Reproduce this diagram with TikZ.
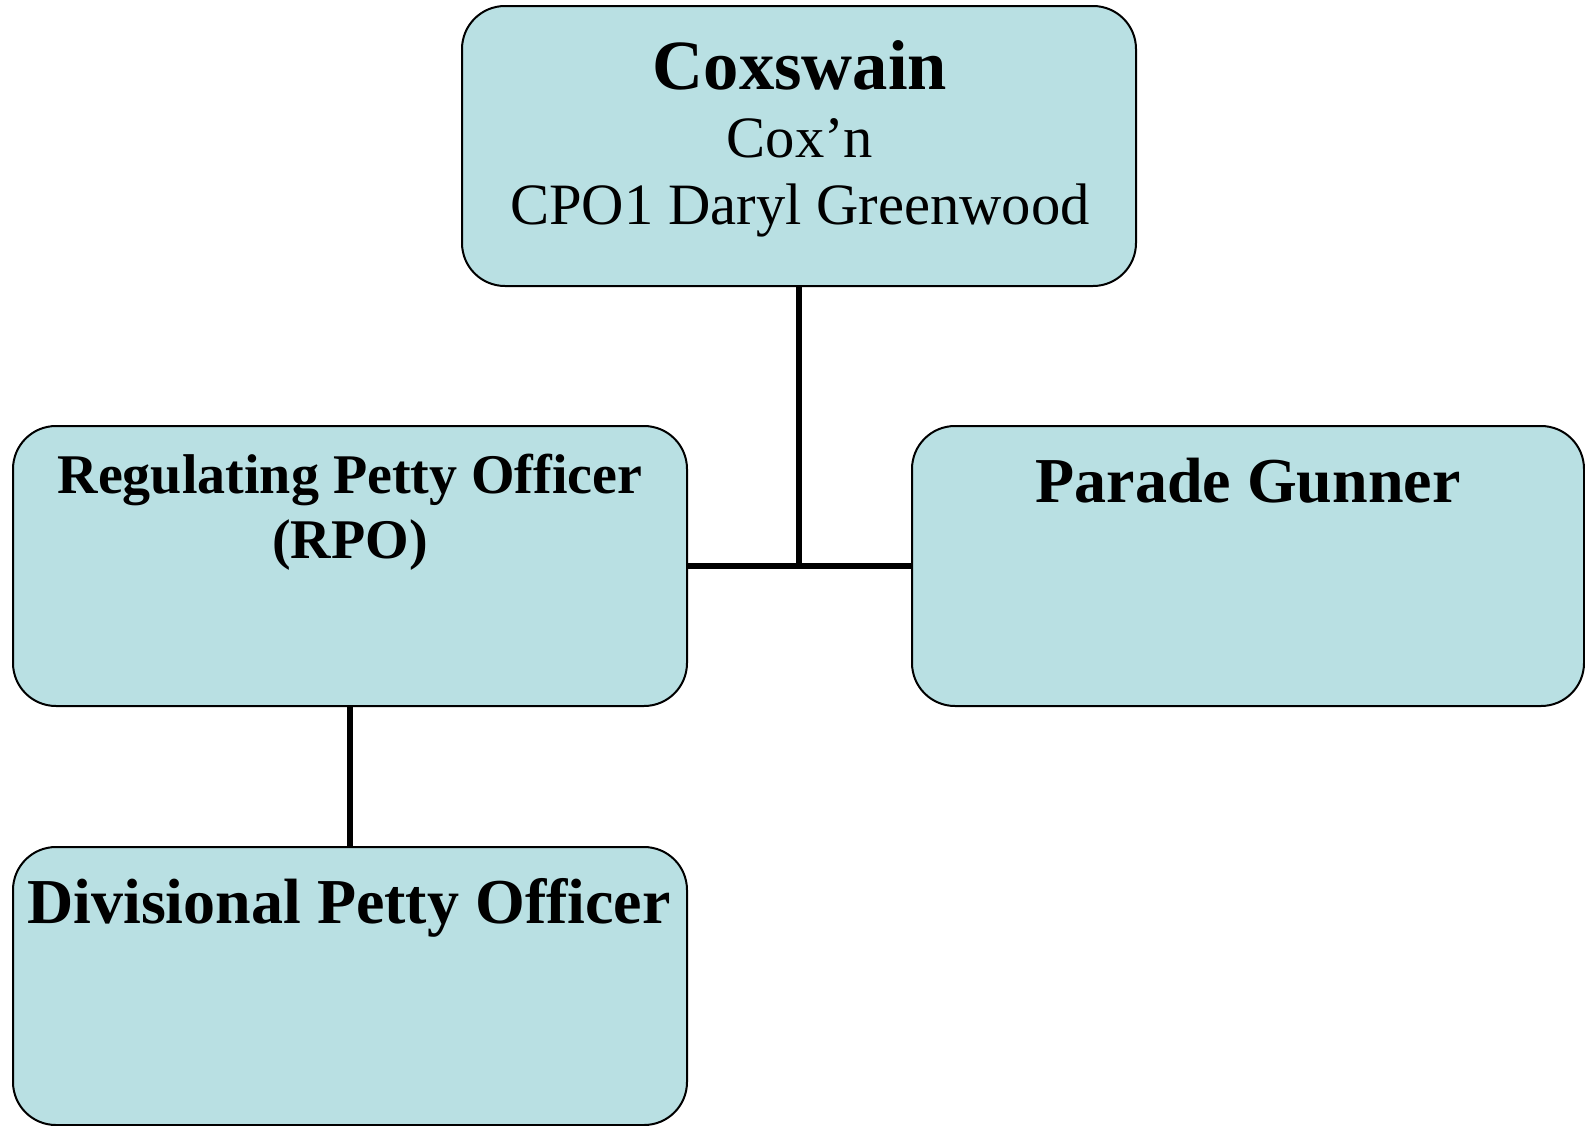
\documentclass[tikz,border=0pt]{standalone}
\usepackage{fontspec}
\setmainfont{Liberation Serif}
\usepackage{tikz}
\usetikzlibrary{positioning}
\definecolor{boxfill}{RGB}{185,224,227}

\begin{document}
\begin{tikzpicture}[x=0.5pt,y=-0.5pt,
    rankbox/.style={draw,line width=1pt,rounded corners=21.5pt,fill=boxfill,
      minimum width=337pt,minimum height=140pt,inner sep=0pt},
    link/.style={line width=2.7pt},
    rank/.style={anchor=base,font=\fontsize{32}{38}\selectfont\bfseries},
    holder/.style={anchor=base,font=\fontsize{29.3}{34}\selectfont}]
  \useasboundingbox (0,0) rectangle (1585,1125);
  % boxes
  \node[rankbox] (cox) at (799,146) {};
  \node[rankbox] (rpo) at (350,566) {};
  \node[rankbox,minimum width=336pt] (gun) at (1248,566) {};
  \node[rankbox,minimum height=139pt] (div) at (350,986) {};
  % connectors
  \coordinate (junction) at (cox.south |- rpo.east);
  \draw[link] (cox.south) -- (junction);
  \draw[link] (rpo.east) -- (gun.west);
  \draw[link] (rpo.south) -- (div.north);
  % texts
  \node[rank,font=\fontsize{35.3}{40}\selectfont\bfseries] (coxtitle) at (800,89) {Coxswain};
  \node[holder] (coxshort) at (800,157) {Cox’n};
  \node[holder] (coxname) at (800,224) {CPO1 Daryl Greenwood};
  \node[rank,font=\fontsize{28}{34}\selectfont\bfseries] (rpotitle) at (350,493) {Regulating Petty Officer};
  \node[rank,font=\fontsize{28}{34}\selectfont\bfseries] (rposhort) at (350,558) {(RPO)};
  \node[rank] (guntitle) at (1248,502) {Parade Gunner};
  \node[rank] (divtitle) at (349,923) {Divisional Petty Officer};
\end{tikzpicture}
\end{document}
